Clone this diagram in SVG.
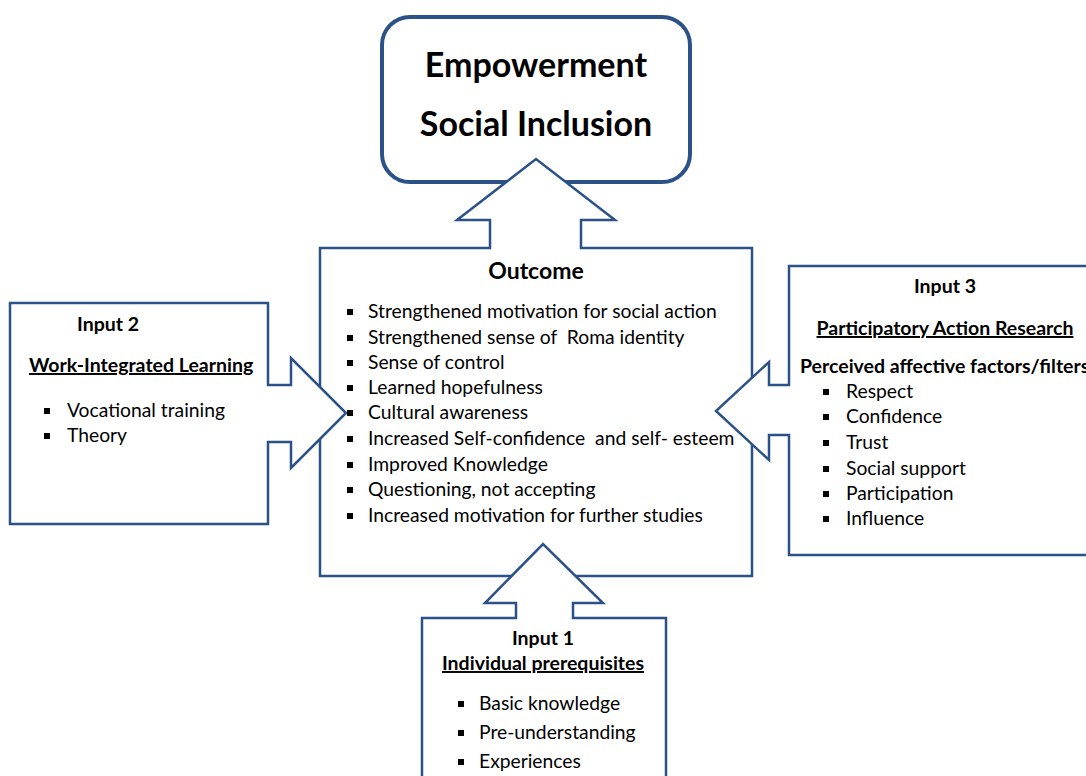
<svg xmlns="http://www.w3.org/2000/svg" width="1086" height="776" viewBox="0 0 1086 776">
<style>
.shape{fill:#fff;stroke:#2B5288;stroke-width:2.5;stroke-linejoin:miter}
.top{fill:#fff;stroke:#2B5288;stroke-width:4}
text{font-family:Lato,"Liberation Sans",sans-serif;fill:#000;white-space:pre}
.t{font-size:19.3px}
.b{font-weight:bold;font-size:19.5px}
.u{text-decoration:underline}
.big{font-size:34px;font-weight:bold}
</style>
<defs>
<rect id="blt" x="0" y="0" width="6" height="6" fill="#000"/>
</defs>
<g id="goal">
<rect class="top" x="382" y="17" width="308" height="165" rx="28"/>
<text class="big" x="536" y="77" text-anchor="middle">Empowerment</text>
<text class="big" x="536" y="136" text-anchor="middle">Social Inclusion</text>
</g>
<g id="connectors">
</g>
<g id="outcome">
<polygon class="shape" points="320,248 490,248 490,220 457,220 536,159 615,220 581,220 581,248 752,248 752,576 320,576"/>
</g>
<g id="input2">
<polygon class="shape" points="10,303 268,303 268,385 291,385 291,358 346,413 291,468 291,442 268,442 268,524 10,524"/>
<text class="b" x="77" y="331">Input 2</text>
<text class="b u" x="29" y="372">Work-Integrated Learning</text>
<use href="#blt" x="44" y="408"/>
<text class="t" x="67" y="417">Vocational training</text>
<use href="#blt" x="44" y="433"/>
<text class="t" x="67" y="442">Theory</text>
</g>
<g id="input3">
<polygon class="shape" points="789,266 1100,266 1100,555 789,555 789,435 769,435 769,460 716,411 769,362 769,385 789,385"/>
<text class="b" x="945" y="293" text-anchor="middle">Input 3</text>
<text class="b u" x="945" y="335" text-anchor="middle">Participatory Action Research</text>
<text class="b" x="800" y="373">Perceived affective factors/filters</text>
<use href="#blt" x="823" y="389"/>
<text class="t" x="846" y="398">Respect</text>
<use href="#blt" x="823" y="414"/>
<text class="t" x="846" y="423">Confidence</text>
<use href="#blt" x="823" y="440"/>
<text class="t" x="846" y="449">Trust</text>
<use href="#blt" x="823" y="466"/>
<text class="t" x="846" y="475">Social support</text>
<use href="#blt" x="823" y="491"/>
<text class="t" x="846" y="500">Participation</text>
<use href="#blt" x="823" y="516"/>
<text class="t" x="846" y="525">Influence</text>
</g>
<g id="input1">
<polygon class="shape" points="422,618 516,618 516,603 485,603 543,544 603,603 573,603 573,618 666,618 666,790 422,790"/>
<text class="b" x="543" y="645" text-anchor="middle">Input 1</text>
<text class="b u" x="543" y="670" text-anchor="middle">Individual prerequisites</text>
<use href="#blt" x="458" y="701"/>
<text class="t" x="479" y="710">Basic knowledge</text>
<use href="#blt" x="458" y="730"/>
<text class="t" x="479" y="739">Pre-understanding</text>
<use href="#blt" x="458" y="759"/>
<text class="t" x="479" y="768">Experiences</text>
</g>
<g id="outcome-text">
<text x="536" y="279" text-anchor="middle" style="font-size:23px;font-weight:bold">Outcome</text>
<use href="#blt" x="347" y="309"/>
<text class="t" x="368" y="318">Strengthened motivation for social action</text>
<use href="#blt" x="347" y="335"/>
<text class="t" x="368" y="344" xml:space="preserve">Strengthened sense of  Roma identity</text>
<use href="#blt" x="347" y="360"/>
<text class="t" x="368" y="369">Sense of control</text>
<use href="#blt" x="347" y="385"/>
<text class="t" x="368" y="394">Learned hopefulness</text>
<use href="#blt" x="347" y="410"/>
<text class="t" x="368" y="419">Cultural awareness</text>
<use href="#blt" x="347" y="436"/>
<text class="t" x="368" y="445" xml:space="preserve">Increased Self-confidence  and self- esteem</text>
<use href="#blt" x="347" y="462"/>
<text class="t" x="368" y="471">Improved Knowledge</text>
<use href="#blt" x="347" y="487"/>
<text class="t" x="368" y="496">Questioning, not accepting</text>
<use href="#blt" x="347" y="513"/>
<text class="t" x="368" y="522">Increased motivation for further studies</text>
</g>
</svg>
